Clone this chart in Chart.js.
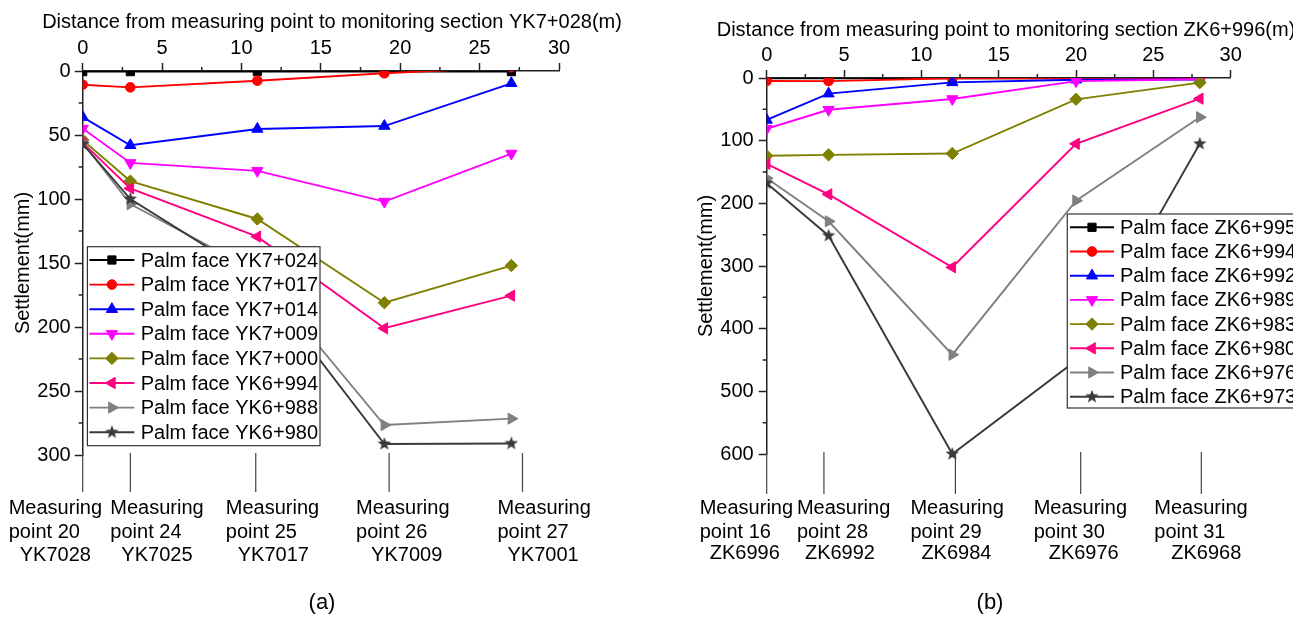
<!DOCTYPE html>
<html>
<head>
<meta charset="utf-8">
<script src="https://cdn.jsdelivr.net/npm/chart.js@4.4.1/dist/chart.umd.min.js"></script>
<style>
  html, body { margin: 0; padding: 0; background: #fff; }
  #wrap { position: relative; width: 1293px; height: 617px; overflow: hidden; }
  .box { position: absolute; top: 0; height: 617px; }
  #boxA { left: 0; width: 660px; }
  #boxB { left: 660px; width: 633px; }
</style>
</head>
<body>
<div id="wrap">
  <div class="box" id="boxA"><canvas id="chartA"></canvas></div>
  <div class="box" id="boxB"><canvas id="chartB"></canvas></div>
</div>
<script>
// ---- (a) section YK7+028 ----
const distA = [0, 3, 11, 19, 27];            // distance of measuring points (m)
const dropA = [0, 3, 10.9, 19.3, 27.7];      // where the measuring-point leader lines sit
const pointNoA = [20, 24, 25, 26, 27];
const stationA = ['YK7028', 'YK7025', 'YK7017', 'YK7009', 'YK7001'];
const namesA = ['Palm face YK7+024', 'Palm face YK7+017', 'Palm face YK7+014', 'Palm face YK7+009',
                'Palm face YK7+000', 'Palm face YK6+994', 'Palm face YK6+988', 'Palm face YK6+980'];
const yk7024 = [0.5, 0.5, 0.5, 0.5, 0.5];
const yk7017 = [10.7, 12.8, 7.6, 1.8, -3];
const yk7014 = [36, 58, 45.3, 43, 9.6];
const yk7009 = [45, 71.8, 78, 102, 64.5];
const yk7000 = [54, 86, 115.6, 181, 152];
const yk6994 = [56, 91.7, 129.4, 201, 175.5];
const yk6988 = [56, 104, 157, 276.6, 271.6];
const yk6980 = [57, 100, 162, 291.4, 291];
const yTicksA = { min: 0, max: 300, step: 50 };

// ---- (b) section ZK6+996 ----
const distB = [0, 4, 12, 20, 28];
const dropB = [0, 3.7, 12.2, 20.3, 28.1];
const pointNoB = [16, 28, 29, 30, 31];
const stationB = ['ZK6996', 'ZK6992', 'ZK6984', 'ZK6976', 'ZK6968'];
const namesB = ['Palm face ZK6+995', 'Palm face ZK6+994', 'Palm face ZK6+992', 'Palm face ZK6+989',
                'Palm face ZK6+983', 'Palm face ZK6+980', 'Palm face ZK6+976', 'Palm face ZK6+973'];
const zk6995 = [0.5, 0.5, 0.5, 0.5, 0.5];
const zk6994 = [4.8, 5, 0.5, 0.3, 0.3];
const zk6992 = [67, 25, 7, 2.7, 2.5];
const zk6989 = [81, 50.7, 33.5, 5, 2];
const zk6983 = [124, 122.6, 120.5, 34, 7.4];
const zk6980 = [137, 185.6, 302, 105, 33];
const zk6976 = [160, 228.7, 441.5, 195.7, 62.6];
const zk6973 = [168, 251.6, 600, 451, 105];
const yTicksB = { min: 0, max: 600, step: 100 };

const xTicks = { min: 0, max: 30, step: 5 };

const FONT = "'Liberation Sans', Arial, sans-serif";
const AXIS = '#222';

function makeStar(color, size) {
  const c = document.createElement('canvas');
  c.width = size; c.height = size;
  const g = c.getContext('2d');
  const R = size / 2, r = R * 0.42;
  g.beginPath();
  for (let k = 0; k < 10; k++) {
    const a = -Math.PI / 2 + k * Math.PI / 5;
    const rad = k % 2 ? r : R;
    g.lineTo(R + rad * Math.cos(a), R + rad * Math.sin(a));
  }
  g.closePath();
  g.fillStyle = color;
  g.fill();
  return c;
}

// marker look for the 8 series (same order in both panels)
const looks = [
  { color: '#000000', style: 'rect', rot: 0, r: 5.8 },
  { color: '#ff0000', style: 'circle', rot: 0, r: 4.8 },
  { color: '#0000ff', style: 'triangle', rot: 0, r: 6.5 },
  { color: '#ff00ff', style: 'triangle', rot: 180, r: 6.5 },
  { color: '#808000', style: 'rectRot', rot: 0, r: 6.2 },
  { color: '#ff0080', style: 'triangle', rot: -90, r: 6.5 },
  { color: '#808080', style: 'triangle', rot: 90, r: 6.5 },
  { color: '#3a3a3a', style: makeStar('#3a3a3a', 14), rot: 0, r: 7 }
];

function buildSets(dist, names, series) {
  return series.map((vals, i) => ({
    label: names[i],
    data: vals.map((v, k) => ({ x: dist[k], y: v })),
    borderColor: looks[i].color,
    backgroundColor: looks[i].color,
    borderWidth: 1.9,
    pointStyle: looks[i].style,
    pointRotation: looks[i].rot,
    pointRadius: looks[i].r,
    pointHoverRadius: looks[i].r,
    pointBackgroundColor: looks[i].color,
    pointBorderColor: looks[i].color,
    pointBorderWidth: 1,
    tension: 0,
    order: series.length - i,
    clip: { left: 0, top: 0, right: false, bottom: false }
  }));
}

function drawMarker(ctx, look, x, y) {
  ctx.save();
  ctx.fillStyle = look.color;
  ctx.strokeStyle = look.color;
  ctx.lineWidth = 1;
  ctx.translate(x, y);
  if (typeof look.style === 'object') {
    ctx.drawImage(look.style, -look.style.width / 2, -look.style.height / 2);
    ctx.restore();
    return;
  }
  ctx.rotate(look.rot * Math.PI / 180);
  const r = look.r;
  ctx.beginPath();
  if (look.style === 'circle') {
    ctx.arc(0, 0, r, 0, Math.PI * 2);
  } else if (look.style === 'rect') {
    const s = r * Math.SQRT1_2;
    ctx.rect(-s, -s, 2 * s, 2 * s);
  } else if (look.style === 'rectRot') {
    ctx.moveTo(0, -r); ctx.lineTo(r, 0); ctx.lineTo(0, r); ctx.lineTo(-r, 0);
  } else {
    for (let k = 0; k < 3; k++) {
      const a = k * 2 * Math.PI / 3;
      ctx.lineTo(Math.sin(a) * r, -Math.cos(a) * r);
    }
  }
  ctx.closePath();
  ctx.fill();
  ctx.stroke();
  ctx.restore();
}

// axis title, minor ticks, leader lines + measuring point labels, legend, panel caption
const extras = {
  id: 'extras',
  afterDraw(chart, args, o) {
    const ctx = chart.ctx;
    const xs = chart.scales.x, ys = chart.scales.y;
    const area = chart.chartArea;
    ctx.save();

    // top axis title (drawn here so it is not squeezed to the axis width)
    ctx.fillStyle = '#000';
    ctx.font = '20px ' + FONT;
    ctx.textAlign = 'center';
    ctx.textBaseline = 'middle';
    ctx.fillText(o.xTitle, o.titleX, o.titleY);

    // minor ticks
    ctx.strokeStyle = AXIS;
    ctx.lineWidth = 1.5;
    ctx.beginPath();
    for (let v = xTicks.step / 2; v < xTicks.max; v += xTicks.step) {
      const px = xs.getPixelForValue(v);
      ctx.moveTo(px, area.top); ctx.lineTo(px, area.top - 4);
    }
    for (let v = o.yStep / 2; v < o.yMax; v += o.yStep) {
      const py = ys.getPixelForValue(v);
      ctx.moveTo(area.left, py); ctx.lineTo(area.left - 4, py);
    }
    ctx.stroke();

    // leader lines
    ctx.strokeStyle = '#444';
    ctx.lineWidth = 1.2;
    ctx.beginPath();
    o.drops.forEach(v => {
      const px = xs.getPixelForValue(v);
      ctx.moveTo(px, area.bottom - 2);
      ctx.lineTo(px, area.bottom + o.dropLen);
    });
    ctx.stroke();

    // labels
    ctx.textAlign = 'left';
    o.drops.forEach((v, i) => {
      const px = xs.getPixelForValue(v) + o.shift[i];
      ctx.fillText('Measuring', px, area.bottom + o.rows[0]);
      ctx.fillText('point ' + o.pointNo[i], px, area.bottom + o.rows[1]);
      ctx.fillText(o.station[i], px + o.indent[i], area.bottom + o.rows[2]);
    });

    // caption
    ctx.font = '22px ' + FONT;
    ctx.textAlign = 'center';
    ctx.fillText(o.caption, o.capX, o.capY);

    // legend
    const L = o.legend;
    ctx.fillStyle = '#fff';
    ctx.fillRect(L.left, L.top, L.width, L.height);
    ctx.strokeStyle = '#333';
    ctx.lineWidth = 1.2;
    ctx.strokeRect(L.left, L.top, L.width, L.height);
    ctx.font = '20px ' + FONT;
    ctx.textAlign = 'left';
    chart.data.datasets.forEach((ds, i) => {
      const y = L.top + L.first + i * L.row;
      ctx.strokeStyle = looks[i].color;
      ctx.lineWidth = 1.9;
      ctx.beginPath();
      ctx.moveTo(L.left + L.lineFrom, y);
      ctx.lineTo(L.left + L.lineTo, y);
      ctx.stroke();
      drawMarker(ctx, looks[i], L.left + (L.lineFrom + L.lineTo) / 2, y);
      ctx.fillStyle = '#000';
      ctx.fillText(ds.label, L.left + L.text, y + 1);
    });
    ctx.restore();
  }
};

function makeChart(id, p) {
  return new Chart(document.getElementById(id), {
    type: 'line',
    data: { datasets: p.sets },
    options: {
      responsive: true,
      maintainAspectRatio: false,
      animation: false,
      events: [],
      layout: { padding: p.padding },
      plugins: {
        legend: { display: false },
        tooltip: { enabled: false },
        extras: p.extras
      },
      scales: {
        x: {
          type: 'linear',
          position: 'top',
          min: xTicks.min, max: xTicks.max,
          afterFit: s => { s.height = 71; },
          ticks: { stepSize: xTicks.step, color: '#000', font: { family: FONT, size: 20 }, padding: 3, maxRotation: 0 },
          grid: { display: true, drawOnChartArea: false, drawTicks: true, tickLength: 8, tickWidth: 1.5, tickColor: AXIS },
          border: { display: true, color: AXIS, width: 1.5 },
          title: { display: false }
        },
        y: {
          type: 'linear',
          position: 'left',
          reverse: true,
          min: p.yTicks.min, max: p.yTicks.max,
          afterFit: s => { s.width = p.yWidth; },
          ticks: { stepSize: p.yTicks.step, color: '#000', font: { family: FONT, size: 20 }, padding: p.yPad },
          grid: { display: true, drawOnChartArea: false, drawTicks: true, tickLength: 8, tickWidth: 1.5, tickColor: AXIS },
          border: { display: true, color: AXIS, width: 1.5 },
          title: { display: true, text: 'Settlement(mm)', color: '#000', font: { family: FONT, size: 20 }, padding: { top: p.yTitlePad, bottom: 0 } }
        }
      }
    },
    plugins: [extras]
  });
}

makeChart('chartA', {
  sets: buildSets(distA, namesA, [yk7024, yk7017, yk7014, yk7009, yk7000, yk6994, yk6988, yk6980]),
  padding: { left: 0, top: 0, right: 101, bottom: 162 },
  yTicks: yTicksA,
  yWidth: 82.7,
  yPad: 4,
  yTitlePad: 11,
  extras: {
    xTitle: 'Distance from measuring point to monitoring section YK7+028(m)', titleX: 332, titleY: 22,
    yStep: yTicksA.step, yMax: yTicksA.max,
    drops: dropA, pointNo: pointNoA, station: stationA,
    dropLen: 37,
    shift: [-74, -20, -30, -33, -25],
    indent: [11, 11, 12, 15, 10],
    rows: [53, 77, 100],
    caption: '(a)', capX: 322, capY: 603,
    legend: { left: 87.4, top: 246.7, width: 232.6, height: 199, first: 13.3, row: 24.6, lineFrom: 2, lineTo: 47, text: 53.3 }
  }
});

makeChart('chartB', {
  sets: buildSets(distB, namesB, [zk6995, zk6994, zk6992, zk6989, zk6983, zk6980, zk6976, zk6973]),
  padding: { left: 0, top: 7, right: 62.3, bottom: 163 },
  yTicks: yTicksB,
  yWidth: 106.7,
  yPad: 5,
  yTitlePad: 34,
  extras: {
    xTitle: 'Distance from measuring point to monitoring section ZK6+996(m)', titleX: 346, titleY: 30,
    yStep: yTicksB.step, yMax: yTicksB.max,
    drops: dropB, pointNo: pointNoB, station: stationB,
    dropLen: 40,
    shift: [-67, -27, -45, -47, -47],
    indent: [10, 8, 11, 15, 17],
    rows: [54, 78, 99],
    caption: '(b)', capX: 330, capY: 603,
    legend: { left: 407.3, top: 214, width: 240, height: 194, first: 13.3, row: 24.2, lineFrom: 2.7, lineTo: 46.7, text: 52.7 }
  }
});
</script>
</body>
</html>
